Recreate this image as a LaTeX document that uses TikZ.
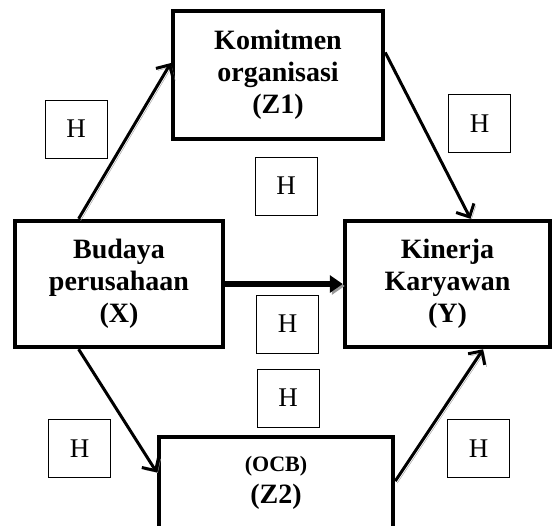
\documentclass[tikz,border=0pt]{standalone}
\usepackage{fontspec}
\setmainfont{Liberation Serif}
\usetikzlibrary{arrows.meta,calc}

\begin{document}
\begin{tikzpicture}[
  x=1pt, y=1pt,
  var/.style={rectangle, draw, line width=4.5pt, align=center, font=\fontsize{28}{32}\selectfont\bfseries},
  hbox/.style={rectangle, draw, line width=0.8pt, minimum width=62pt, minimum height=58pt, font=\fontsize{27}{32}\selectfont},
  shade/.style={preaction={draw=black!40, transform canvas={shift={(2pt,-2pt)}}}},
  arrow/.style={line width=3pt, -{Straight Barb[length=10pt,width=20pt,line width=3pt]}, shade},
  bigarrow/.style={line width=5.5pt, -{Triangle[length=13pt,width=17pt]}, shade}
]
\clip (0,0) rectangle (553,-525);
\useasboundingbox (0,0) rectangle (553,-525);

% Variables
\node[var, minimum width=210pt, minimum height=128pt] (komitmen) at (278,-75) {Komitmen\\organisasi\\(Z1)};
\node[var, minimum width=208pt, minimum height=126pt] (budaya) at (119,-284) {Budaya\\perusahaan\\(X)};
\node[var, minimum width=205pt, minimum height=126pt] (kinerja) at (447.5,-284) {Kinerja\\Karyawan\\(Y)};
\node[var, minimum width=234pt, minimum height=92pt] (ocb) at (276,-483) {{\fontsize{22}{32}\selectfont (OCB)}\\(Z2)};

% Paths
\draw[arrow] ($(budaya.north west)!0.31!(budaya.north east)$) -- ($(komitmen.north west)!0.41!(komitmen.south west)$);
\draw[arrow] ($(komitmen.north east)!0.33!(komitmen.south east)$) -- ($(kinerja.north west)!0.61!(kinerja.north east)$);
\draw[bigarrow] (budaya.east) -- (kinerja.west);
\draw[arrow] ($(budaya.south west)!0.31!(budaya.south east)$) -- ($(ocb.north west)!0.39!(ocb.south west)$);
\draw[arrow] ($(ocb.north east)!0.48!(ocb.south east)$) -- ($(kinerja.south west)!0.67!(kinerja.south east)$);

% Hypotheses
\node[hbox] (h1) at (76,-129) {H};
\node[hbox] (h2) at (286,-186) {H};
\node[hbox] (h3) at (479.5,-123.5) {H};
\node[hbox] (h4) at (287.5,-324) {H};
\node[hbox] (h5) at (288,-398) {H};
\node[hbox] (h6) at (79.5,-448.5) {H};
\node[hbox] (h7) at (478.5,-448.5) {H};

\end{tikzpicture}
\end{document}
